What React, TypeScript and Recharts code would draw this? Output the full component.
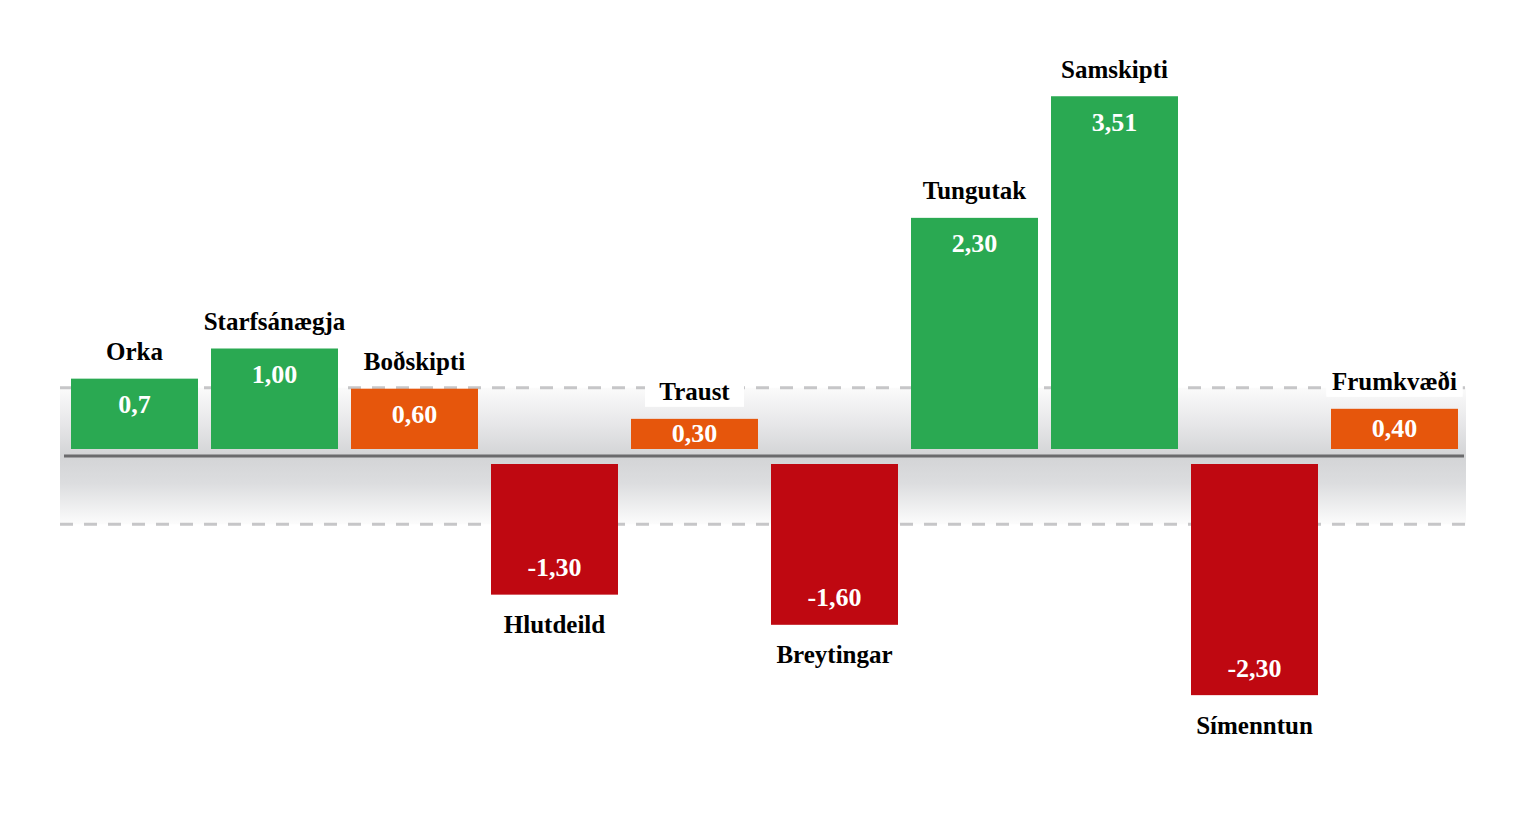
import { BarChart, Bar, XAxis, YAxis, ReferenceArea, ReferenceLine, LabelList } from 'recharts';

const categories = ['Orka', 'Starfsánægja', 'Boðskipti', 'Hlutdeild', 'Traust', 'Breytingar', 'Tungutak', 'Samskipti', 'Símenntun', 'Frumkvæði'];
const values = [0.7, 1.0, 0.6, -1.3, 0.3, -1.6, 2.3, 3.51, -2.3, 0.4];
const valueLabels = ['0,7', '1,00', '0,60', '-1,30', '0,30', '-1,60', '2,30', '3,51', '-2,30', '0,40'];
const bandLimit = 0.68;

const rows = categories.map((name, i) => ({ name, value: values[i], label: valueLabels[i] }));

const FONT = '"Liberation Serif", "Times New Roman", serif';

const colorFor = (v: number) => (v < 0 ? '#bf0811' : v < bandLimit ? '#e6560c' : '#2aa952');
const gapFor = (v: number) => (v >= 0 ? -7 : 8);

function boxOf(props: any, v: number) {
  const vb = props.viewBox ?? props;
  const top = Math.min(vb.y, vb.y + vb.height) + gapFor(v);
  const h = Math.abs(vb.height);
  return { x: vb.x, w: vb.width, top, h, bottom: top + h };
}

// grey band with dashed edges, drawn below the bars
const BandShape = (props: any) => {
  const x = props.x - 4;
  const w = props.width + 6;
  const top = Math.min(props.y, props.y + props.height);
  const h = Math.abs(props.height);
  return (
    <g>
      <rect x={x} y={top} width={w} height={h} fill="url(#bandGrad)" />
      <line x1={x} x2={x + w} y1={top} y2={top} stroke="#c6c6c8" strokeWidth={3} strokeDasharray="13 11" />
      <line x1={x} x2={x + w} y1={top + h} y2={top + h} stroke="#c6c6c8" strokeWidth={3} strokeDasharray="13 11" />
    </g>
  );
};

const BarShape = (props: any) => {
  const v = props.payload.value;
  const b = boxOf(props, v);
  return <rect x={b.x} y={b.top} width={b.w} height={b.h} fill={colorFor(v)} />;
};

const ValueLabel = (props: any) => {
  const idx = props.index ?? valueLabels.indexOf(props.value);
  const v = values[idx];
  const b = boxOf(props, v);
  const cy = v >= 0 ? Math.min(b.top + 26, b.top + b.h / 2) : Math.max(b.bottom - 27, b.top + b.h / 2);
  return (
    <text x={b.x + b.w / 2} y={cy} textAnchor="middle" dominantBaseline="central"
      fill="#ffffff" fontFamily={FONT} fontWeight="bold" fontSize={26}>
      {valueLabels[idx]}
    </text>
  );
};

const NameLabel = (props: any) => {
  const idx = props.index ?? categories.indexOf(props.value);
  const v = values[idx];
  const b = boxOf(props, v);
  const cx = b.x + b.w / 2;
  const cy = v >= 0 ? b.top - 27 : b.bottom + 30;
  const bw = categories[idx].length * 12.5 + 24;
  return (
    <g>
      <rect x={cx - bw / 2} y={cy - 15} width={bw} height={30} fill="#ffffff" />
      <text x={cx} y={cy} textAnchor="middle" dominantBaseline="central"
        fill="#000000" fontFamily={FONT} fontWeight="bold" fontSize={25}>
        {categories[idx]}
      </text>
    </g>
  );
};

export default function App() {
  return (
    <BarChart width={1507} height={797} data={rows} margin={{ top: 46, right: 51, bottom: 47.5, left: 56 }} barSize={127}>
      <defs>
        <linearGradient id="bandGrad" x1="0" y1="0" x2="0" y2="1">
          <stop offset="0%" stopColor="#fbfbfb" />
          <stop offset="25%" stopColor="#e8e8ea" />
          <stop offset="50%" stopColor="#d3d4d6" />
          <stop offset="70%" stopColor="#dcdddf" />
          <stop offset="100%" stopColor="#fcfcfc" />
        </linearGradient>
      </defs>
      <XAxis dataKey="name" hide />
      <YAxis hide domain={[-3, 4]} type="number" />
      <ReferenceArea y1={-bandLimit} y2={bandLimit} shape={BandShape} />
      <ReferenceLine y={0} stroke="#6b6b6d" strokeWidth={3} />
      <Bar dataKey="value" shape={BarShape} isAnimationActive={false}>
        <LabelList dataKey="label" content={ValueLabel} />
        <LabelList dataKey="name" content={NameLabel} />
      </Bar>
    </BarChart>
  );
}
